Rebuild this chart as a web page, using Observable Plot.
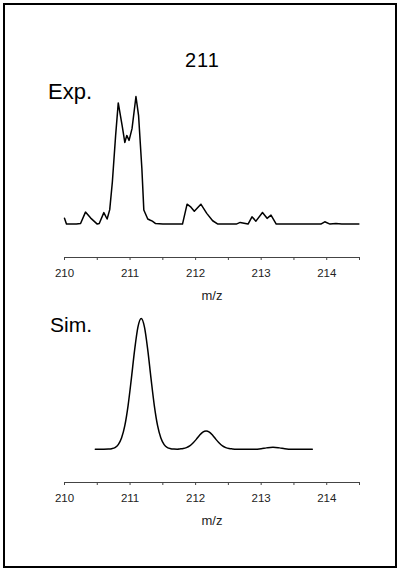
<!DOCTYPE html>
<html>
<head>
<meta charset="utf-8">
<script src="https://cdn.jsdelivr.net/npm/d3@7"></script>
<script src="https://cdn.jsdelivr.net/npm/@observablehq/plot@0.6"></script>
<style>
  body { margin: 0; background: #fff; font-family: Arial, "Liberation Sans", sans-serif; }
  #page { position: relative; width: 398px; height: 568px; overflow: hidden; background: #fff; }
  #frame { position: absolute; left: 3px; top: 3px; width: 394px; height: 565px; border: 2px solid #000; box-sizing: border-box; }
  .lbl { position: absolute; line-height: 1; color: #000; white-space: nowrap; }
  .plot { position: absolute; left: 0; }
</style>
</head>
<body>
<div id="page">
  <div id="frame"></div>
  <div class="lbl" id="title" style="font-size:20px; top:50px; left:185px; letter-spacing:1px;">211</div>
  <div class="lbl" style="font-size:22px; top:81px; left:48px;">Exp.</div>
  <div class="lbl" style="font-size:21px; top:314px; left:50px;">Sim.</div>
  <div class="plot" id="exp" style="top:80px;"></div>
  <div class="plot" id="sim" style="top:300px;"></div>
</div>
<script>
// m/z axis
const xDomain = [210, 214.5];
const majorTicks = [210, 211, 212, 213, 214];
const minorTicks = [210.5, 211.5, 212.5, 213.5, 214.5];

// Experimental spectrum (relative intensity, %)
const expMz = [210.00, 210.03, 210.10, 210.18, 210.245, 210.32, 210.40, 210.50, 210.53, 210.60,
  210.65, 210.69, 210.73, 210.78, 210.82, 210.88, 210.92, 210.95, 210.985, 211.03,
  211.09, 211.13, 211.18, 211.21, 211.27, 211.31, 211.34, 211.39, 211.50, 211.65,
  211.80, 211.87, 211.92, 211.98, 212.08, 212.17, 212.26, 212.34, 212.50, 212.62,
  212.68, 212.80, 212.86, 212.92, 213.02, 213.09, 213.15, 213.23, 213.50, 213.91,
  213.97, 214.05, 214.14, 214.23, 214.49];
const expIntensity = [4.5, 0, 0, 0, 0.5, 9.4, 4.7, 0, 0.5, 9,
  4, 11.3, 33, 69.5, 95, 77, 64, 69.5, 65.6, 74.8,
  100, 85, 43.7, 11, 4, 3, 2.3, 0.4, 0, 0,
  0, 15.6, 13.7, 10, 15.6, 8.4, 2.6, 0, 0, 0,
  1.3, 0, 5.7, 2.3, 9.1, 4.5, 7, 0, 0, 0,
  1.8, 0, 0.5, 0, 0];

// Simulated isotope pattern (relative intensity, %)
const simMz = [210.47, 210.60, 210.67, 210.72, 210.77, 210.82, 210.87, 210.92, 210.97, 211.02,
  211.07, 211.12, 211.17, 211.22, 211.27, 211.32, 211.37, 211.42, 211.47, 211.52,
  211.57, 211.62, 211.67, 211.72, 211.76, 211.81, 211.86, 211.91, 211.96, 212.01,
  212.06, 212.11, 212.16, 212.21, 212.26, 212.31, 212.36, 212.41, 212.46, 212.51,
  212.56, 212.62, 212.90, 213.00, 213.08, 213.18, 213.28, 213.36, 213.46, 213.78];
const simIntensity = [0, 0, 0.1, 0.4, 1.2, 3.5, 8.5, 18, 33.4, 54,
  76, 93.4, 100, 93.4, 76, 54, 33.4, 18, 8.5, 3.5,
  1.2, 0.4, 0.1, 0, 0.2, 0.5, 1.2, 2.5, 4.7, 7.5,
  10.6, 13.1, 14, 13.1, 10.6, 7.5, 4.7, 2.5, 1.2, 0.5,
  0.2, 0, 0, 0.4, 1.0, 1.5, 1.0, 0.4, 0, 0];

function spectrum(mz, intensity, {yMin, height, marginTop, curve}) {
  const data = mz.map((m, i) => ({mz: m, intensity: intensity[i]}));
  return Plot.plot({
    width: 398,
    height,
    marginLeft: 64,
    marginRight: 39,
    marginTop,
    marginBottom: 50,
    style: {fontFamily: "Arial, 'Liberation Sans', sans-serif", background: "transparent"},
    x: {domain: xDomain},
    y: {domain: [yMin, 100], axis: null},
    marks: [
      Plot.ruleY([yMin], {x1: xDomain[0], x2: xDomain[1], stroke: "#444", strokeWidth: 1}),
      // half-unit ticks, carrying the axis title
      Plot.axisX(minorTicks, {
        tickSize: 3, tickFormat: () => "", stroke: "#444", fill: "#222", fontSize: 13,
        label: "m/z", labelAnchor: "center", labelArrow: "none", labelOffset: 42
      }),
      Plot.axisX(majorTicks, {
        tickSize: 3, tickPadding: 8, fontSize: 11.5, fill: "#222", stroke: "#444",
        tickFormat: d => String(d), label: null
      }),
      Plot.line(data, {x: "mz", y: "intensity", curve, stroke: "#000", strokeWidth: 1.5})
    ]
  });
}

document.getElementById("exp").append(
  spectrum(expMz, expIntensity, {yMin: -26.2, height: 227, marginTop: 16, curve: "linear"})
);
document.getElementById("sim").append(
  spectrum(simMz, simIntensity, {yMin: -25.5, height: 232, marginTop: 18, curve: "monotone-x"})
);
</script>
</body>
</html>
